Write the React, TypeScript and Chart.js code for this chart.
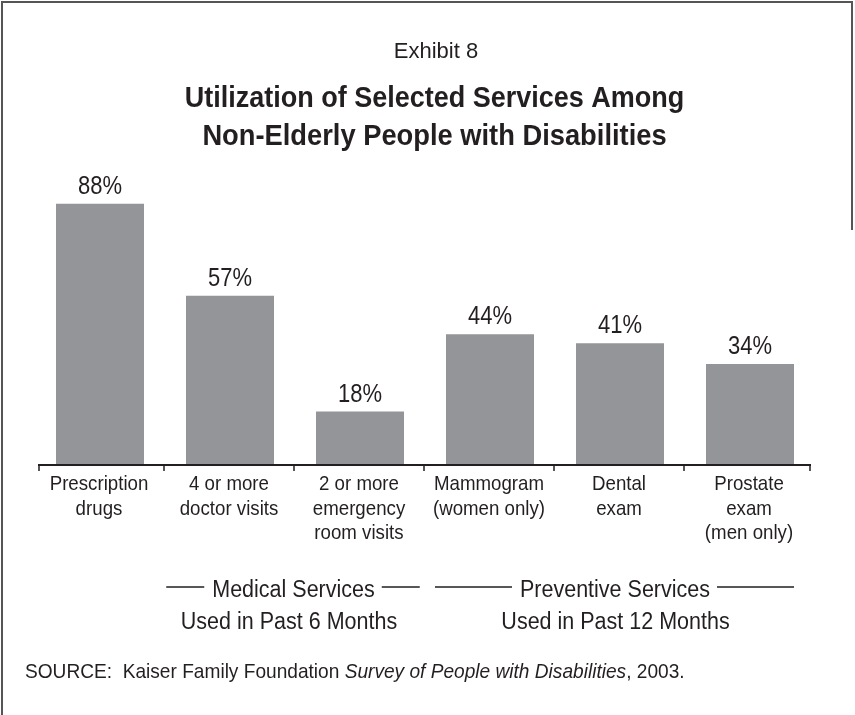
import React, { useEffect, useRef } from "react";
import { Chart, registerables } from "chart.js";

Chart.register(...registerables);

// ---------- data ----------
const categories: string[][] = [
  ["Prescription", "drugs"],
  ["4 or more", "doctor visits"],
  ["2 or more", "emergency", "room visits"],
  ["Mammogram", "(women only)"],
  ["Dental", "exam"],
  ["Prostate", "exam", "(men only)"],
];
const values: number[] = [88, 57, 18, 44, 41, 34];
const exhibitLabel = "Exhibit 8";
const titleLines: string[] = [
  "Utilization of Selected Services Among",
  "Non-Elderly People with Disabilities",
];
const groupTitles: string[] = ["Medical Services", "Preventive Services"];
const groupSubtitles: string[] = ["Used in Past 6 Months", "Used in Past 12 Months"];
const sourceParts: { text: string; italic: boolean }[] = [
  { text: "SOURCE:  Kaiser Family Foundation ", italic: false },
  { text: "Survey of People with Disabilities", italic: true },
  { text: ", 2003.", italic: false },
];

// ---------- styles ----------
const FAMILY = '"Liberation Sans", Arial, sans-serif';
const TEXT = "#231f20";
const BAR = "#939598";

function drawText(
  ctx: CanvasRenderingContext2D,
  text: string,
  x: number,
  y: number,
  font: string,
  sx: number,
  align: CanvasTextAlign = "center"
) {
  ctx.save();
  ctx.font = font;
  ctx.fillStyle = TEXT;
  ctx.textAlign = align;
  ctx.textBaseline = "alphabetic";
  ctx.translate(x, y);
  ctx.scale(sx, 1);
  ctx.fillText(text, 0, 0);
  ctx.restore();
}

function textWidth(ctx: CanvasRenderingContext2D, text: string, font: string, sx: number) {
  ctx.save();
  ctx.font = font;
  const w = ctx.measureText(text).width * sx;
  ctx.restore();
  return w;
}

const decorPlugin = {
  id: "decor",
  afterDraw(chart: any) {
    const ctx: CanvasRenderingContext2D = chart.ctx;
    const xs = chart.scales.x;
    const area = chart.chartArea;

    // frame
    ctx.save();
    ctx.strokeStyle = "#555555";
    ctx.lineWidth = 2;
    ctx.beginPath();
    ctx.moveTo(2, 715);
    ctx.lineTo(2, 2);
    ctx.lineTo(852, 2);
    ctx.lineTo(852, 230);
    ctx.stroke();
    ctx.restore();

    // header
    drawText(ctx, exhibitLabel, 436, 58, `22px ${FAMILY}`, 1.0);
    drawText(ctx, titleLines[0], 434.5, 107, `bold 30px ${FAMILY}`, 0.9);
    drawText(ctx, titleLines[1], 434.5, 145, `bold 30px ${FAMILY}`, 0.91);

    // value labels
    const meta = chart.getDatasetMeta(0);
    meta.data.forEach((bar: any, i: number) => {
      drawText(ctx, `${values[i]}%`, bar.x, bar.y - 10, `25px ${FAMILY}`, 0.88);
    });

    // axis line and ticks
    const n = categories.length;
    const x0 = xs.getPixelForValue(0);
    const xl = xs.getPixelForValue(n - 1);
    const pitch = xs.getPixelForValue(1) - x0;
    const y = area.bottom;
    ctx.save();
    ctx.strokeStyle = TEXT;
    ctx.lineWidth = 2;
    ctx.beginPath();
    ctx.moveTo(x0 - 62, y);
    ctx.lineTo(xl + 61, y);
    ctx.stroke();
    ctx.lineWidth = 1.5;
    const ticks = [x0 - 61];
    for (let i = 0; i < n - 1; i++) ticks.push(xs.getPixelForValue(i) + pitch / 2 - 1);
    ticks.push(xl + 60);
    ctx.beginPath();
    ticks.forEach((t) => {
      ctx.moveTo(t, y);
      ctx.lineTo(t, y + 6);
    });
    ctx.stroke();
    ctx.restore();

    // category labels
    categories.forEach((lines, i) => {
      const cx = xs.getPixelForValue(i);
      lines.forEach((ln, k) => {
        drawText(ctx, ln, cx - 1, 490 + k * 24.7, `21px ${FAMILY}`, 0.89);
      });
    });

    // group labels with dashes
    const gFont = `23.5px ${FAMILY}`;
    const gSx = 0.915;
    const groupCenters = [293.5, 615];
    const dashLens = [38, 77];
    ctx.save();
    ctx.strokeStyle = TEXT;
    ctx.lineWidth = 1.4;
    groupTitles.forEach((t, i) => {
      const cx = groupCenters[i];
      const w = textWidth(ctx, t, gFont, gSx);
      drawText(ctx, t, cx, 597, gFont, gSx);
      const l = cx - w / 2 - 8;
      const r = cx + w / 2 + 7;
      ctx.beginPath();
      ctx.moveTo(l - dashLens[i], 587);
      ctx.lineTo(l, 587);
      ctx.moveTo(r, 587);
      ctx.lineTo(r + dashLens[i], 587);
      ctx.stroke();
    });
    ctx.restore();
    const subCenters = [289, 615.5];
    groupSubtitles.forEach((t, i) => drawText(ctx, t, subCenters[i], 629, gFont, gSx));

    // source
    let sx = 25;
    const sSx = 0.91;
    sourceParts.forEach((p) => {
      const f = `${p.italic ? "italic " : ""}21px ${FAMILY}`;
      drawText(ctx, p.text, sx, 678, f, sSx, "left");
      sx += textWidth(ctx, p.text, f, sSx);
    });
  },
};

export default function App() {
  const ref = useRef<HTMLCanvasElement | null>(null);
  useEffect(() => {
    document.body.style.margin = "0";
    const canvas = ref.current!;
    const chart = new Chart(canvas, {
      type: "bar",
      data: {
        labels: categories,
        datasets: [
          {
            data: values,
            backgroundColor: BAR,
            borderWidth: 0,
            barPercentage: 88 / 130,
            categoryPercentage: 1,
          },
        ],
      },
      options: {
        animation: false,
        responsive: false,
        maintainAspectRatio: false,
        devicePixelRatio: 1,
        layout: { padding: { left: 35, right: 40, top: 168, bottom: 250 } },
        scales: {
          x: { display: false },
          y: { display: false, min: 0, max: 100 },
        },
        plugins: {
          legend: { display: false },
          tooltip: { enabled: false },
          title: { display: false },
        },
      },
      plugins: [decorPlugin],
    });
    return () => chart.destroy();
  }, []);
  return (
    <div style={{ width: 855, height: 715, background: "#fff" }}>
      <canvas ref={ref} width={855} height={715} style={{ display: "block" }} />
    </div>
  );
}
